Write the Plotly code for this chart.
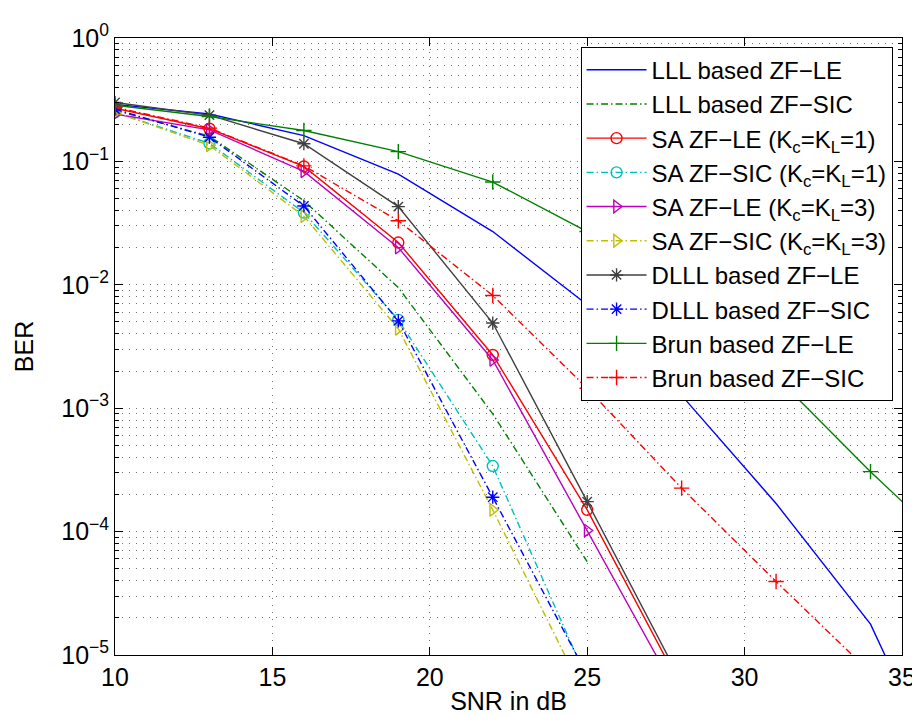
import plotly.graph_objects as go

# ---------------- data ----------------
snr = [10, 13, 16, 19, 22, 25, 28, 31, 34, 37]

lll_le   = [0.29, 0.242, 0.162, 0.079, 0.027, 0.0069, 0.00127, 1.69e-4, 1.78e-5, 4e-7]
lll_sic  = [0.26, 0.16, 0.048, 0.0095, 9.0e-4, 5.7e-5]
sa_le1   = [0.27, 0.184, 0.091, 0.022, 0.0027, 1.5e-4, 5.4e-6]
sa_sic1  = [0.25, 0.14, 0.0385, 0.0052, 3.4e-4, 6.3e-6]
sa_le3   = [0.242, 0.18, 0.083, 0.020, 0.00246, 1.02e-4, 4.2e-6]
sa_sic3  = [0.25, 0.135, 0.036, 0.0044, 1.5e-4, 4.3e-6]
dlll_le  = [0.30, 0.237, 0.139, 0.043, 0.0049, 1.75e-4, 6.0e-6]
dlll_sic = [0.265, 0.157, 0.0435, 0.0051, 1.9e-4, 6.9e-6]
brun_le  = [0.285, 0.231, 0.178, 0.12, 0.068, 0.027, 0.0068, 0.0018, 3.06e-4, 5.8e-5]
brun_sic = [0.275, 0.186, 0.092, 0.033, 0.0082, 1.45e-3, 2.25e-4, 3.94e-5, 7.2e-6]

names = [
    "LLL based ZF\u2212LE",
    "LLL based ZF\u2212SIC",
    "SA ZF\u2212LE (K<sub>c</sub>=K<sub>L</sub>=1)",
    "SA ZF\u2212SIC (K<sub>c</sub>=K<sub>L</sub>=1)",
    "SA ZF\u2212LE (K<sub>c</sub>=K<sub>L</sub>=3)",
    "SA ZF\u2212SIC (K<sub>c</sub>=K<sub>L</sub>=3)",
    "DLLL based ZF\u2212LE",
    "DLLL based ZF\u2212SIC",
    "Brun based ZF\u2212LE",
    "Brun based ZF\u2212SIC",
]

x_ticks = [10, 15, 20, 25, 30, 35]
y_ticks = [1e-5, 1e-4, 1e-3, 1e-2, 1e-1, 1e0]
y_ticktext = ["10<sup>\u22125</sup>", "10<sup>\u22124</sup>", "10<sup>\u22123</sup>",
              "10<sup>\u22122</sup>", "10<sup>\u22121</sup>", "10<sup>0</sup>"]

# ---------------- styles ----------------
DD = "7px,3px,1.5px,3px"
styles = [
    dict(color="#0000ff", dash="solid", symbol=None),
    dict(color="#008000", dash=DD, symbol=None),
    dict(color="#ff0000", dash="solid", symbol="circle-open"),
    dict(color="#00bfbf", dash=DD, symbol="circle-open"),
    dict(color="#bf00bf", dash="solid", symbol="triangle-right-open"),
    dict(color="#bfbf00", dash=DD, symbol="triangle-right-open"),
    dict(color="#404040", dash="solid", symbol="asterisk-open"),
    dict(color="#0000ff", dash=DD, symbol="asterisk-open"),
    dict(color="#008000", dash="solid", symbol="cross-thin-open"),
    dict(color="#ff0000", dash=DD, symbol="cross-thin-open"),
]
series = [lll_le, lll_sic, sa_le1, sa_sic1, sa_le3, sa_sic3, dlll_le, dlll_sic, brun_le, brun_sic]

fig = go.Figure()
for name, ys, st in zip(names, series, styles):
    mode = "lines" if st["symbol"] is None else "lines+markers"
    kw = {}
    if st["symbol"] is not None:
        kw["marker"] = dict(symbol=st["symbol"], size=11,
                            color=st["color"], line=dict(color=st["color"], width=1.4))
    fig.add_trace(go.Scatter(
        x=snr[:len(ys)], y=ys, name=name, mode=mode,
        line=dict(color=st["color"], width=1.4, dash=st["dash"]),
        **kw))

minor_vals = [m * 10.0 ** e for e in range(-5, 0) for m in range(2, 10)]

grid_common = dict(gridcolor="rgba(0,0,0,0.55)", gridwidth=1, griddash="1px,6px")

fig.update_layout(
    width=920, height=715,
    margin=dict(l=107, r=17, t=21, b=67),
    paper_bgcolor="white", plot_bgcolor="white",
    font=dict(family="Liberation Sans, Arial, sans-serif", size=25, color="black"),
    showlegend=True,
    legend=dict(
        x=0.988, y=0.986, xanchor="right", yanchor="top",
        bgcolor="white", bordercolor="black", borderwidth=1,
        font=dict(size=24), itemwidth=60, tracegroupgap=0,
    ),
    xaxis=dict(
        range=[10, 35], tickmode="array", tickvals=x_ticks,
        ticks="inside", ticklen=8, tickcolor="black",
        showline=True, linecolor="black", linewidth=1, mirror="ticks",
        showgrid=True, zeroline=False, **grid_common,
        title=dict(text="SNR in dB", standoff=2, font=dict(size=25)),
    ),
    yaxis=dict(
        type="log", range=[-5, 0], tickmode="array", tickvals=y_ticks, ticktext=y_ticktext,
        ticks="inside", ticklen=8, tickcolor="black",
        showline=True, linecolor="black", linewidth=1, mirror="ticks",
        showgrid=True, zeroline=False, **grid_common,
        minor=dict(tickmode="array", tickvals=minor_vals, ticks="inside", ticklen=4,
                   tickcolor="black", showgrid=True, gridcolor="rgba(0,0,0,0.55)",
                   gridwidth=1, griddash="1px,6px"),
        title=dict(text="BER", standoff=20, font=dict(size=25)),
    ),
)

fig.write_html("out.html")
